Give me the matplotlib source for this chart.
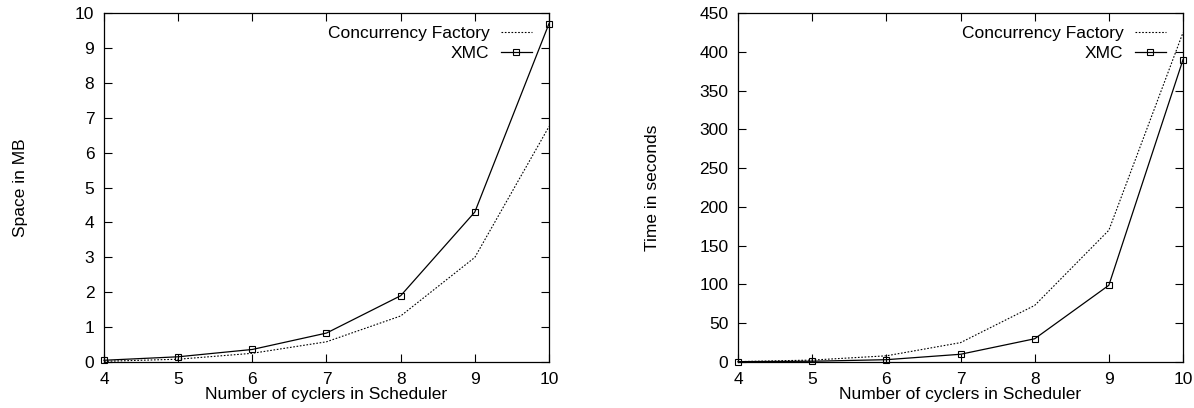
import matplotlib
matplotlib.use("Agg")
import matplotlib.pyplot as plt

cyclers = [4, 5, 6, 7, 8, 9, 10]
space_cf = [0.02, 0.08, 0.25, 0.58, 1.32, 3.0, 6.75]
space_xmc = [0.05, 0.15, 0.36, 0.83, 1.9, 4.3, 9.7]
time_cf = [0.5, 2.5, 8, 25, 73, 170, 425]
time_xmc = [0.5, 1, 3, 10, 30, 99, 390]

plt.rcParams['font.family'] = ['Liberation Sans', 'DejaVu Sans']
plt.rcParams['font.size'] = 12.5

fig = plt.figure(figsize=(11.94, 4.08), dpi=100)
ax1 = fig.add_axes([0.0871, 0.1127, 0.3727, 0.855])
ax2 = fig.add_axes([0.6181, 0.1127, 0.3727, 0.855])

def style(ax, ylim, yticks, ylabel, ylpad):
    ax.set_xlim(4, 10)
    ax.set_ylim(*ylim)
    ax.set_xticks(cyclers)
    ax.set_yticks(yticks)
    ax.tick_params(direction='in', top=True, right=True, length=6, width=0.8)
    ax.tick_params(axis='x', pad=7)
    ax.tick_params(axis='y', pad=7)
    ax.set_xlabel('Number of cyclers in Scheduler', labelpad=0)
    ax.set_ylabel(ylabel, labelpad=ylpad)
    for s in ax.spines.values():
        s.set_linewidth(0.9)

ax1.plot(cyclers, space_cf, color='black', linestyle=(0, (1.5, 1.5)), linewidth=0.8, label='Concurrency Factory')
ax1.plot(cyclers, space_xmc, color='black', linestyle='-', linewidth=0.9, marker='s', markersize=5,
         markerfacecolor='none', markeredgewidth=0.8, label='XMC', clip_on=False)
style(ax1, (0, 10), range(0, 11), 'Space in MB', 34)

ax2.plot(cyclers, time_cf, color='black', linestyle=(0, (1.5, 1.5)), linewidth=0.8, label='Concurrency Factory')
ax2.plot(cyclers, time_xmc, color='black', linestyle='-', linewidth=0.9, marker='s', markersize=5,
         markerfacecolor='none', markeredgewidth=0.8, label='XMC', clip_on=False)
style(ax2, (0, 450), range(0, 451, 50), 'Time in seconds', 28)

for ax in (ax1, ax2):
    ax.legend(loc='upper right', bbox_to_anchor=(0.962, 0.963), frameon=False, markerfirst=False,
              handlelength=1.8, handletextpad=0.65, labelspacing=0.25, borderpad=0,
              borderaxespad=0, fontsize=12.5)

fig.savefig('out.png', dpi=100)
